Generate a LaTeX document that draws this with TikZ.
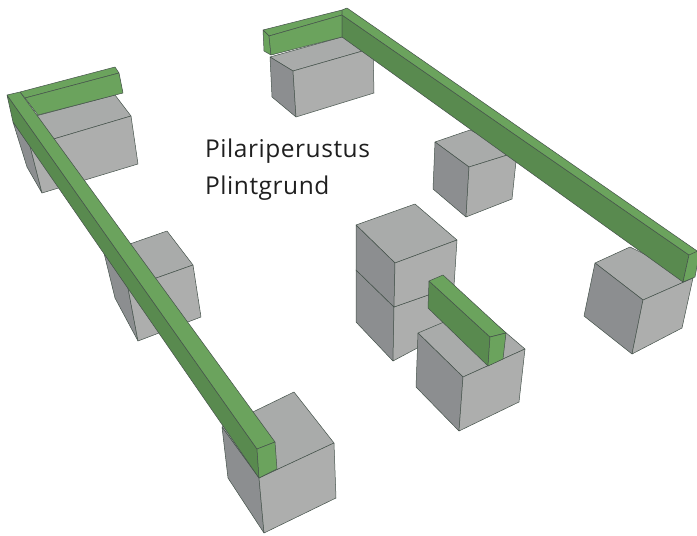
\documentclass[tikz,border=0pt]{standalone}
\usepackage{fontspec}
\setmainfont[LetterSpace=2.2]{Open Sans}
\definecolor{cubetop}{HTML}{A9ABAA}
\definecolor{cubeleft}{HTML}{8C8E90}
\definecolor{cuberight}{HTML}{ADAEAD}
\definecolor{greentop}{HTML}{6BA35D}
\definecolor{greenside}{HTML}{598A4F}
\definecolor{edgeline}{HTML}{45524B}
\tikzset{
  topface/.style={fill=cubetop,draw=edgeline,line width=0.5pt,line join=round},
  leftface/.style={fill=cubeleft,draw=edgeline,line width=0.5pt,line join=round},
  rightface/.style={fill=cuberight,draw=edgeline,line width=0.5pt,line join=round},
  beamtop/.style={fill=greentop,draw=edgeline,line width=0.5pt,line join=round},
  beamside/.style={fill=greenside,draw=edgeline,line width=0.5pt,line join=round},
  label/.style={anchor=base west,font=\fontsize{24.5}{24.5}\selectfont,text=black!88,inner sep=0pt}
}
% #1 left-top, #2 back-top, #3 right-top, #4 front-top, #5 left-bottom, #6 front-bottom, #7 right-bottom
\newcommand{\pcube}[7]{%
  \path[topface] #1 -- #2 -- #3 -- #4 -- cycle;
  \path[leftface] #1 -- #4 -- #6 -- #5 -- cycle;
  \path[rightface] #4 -- #3 -- #7 -- #6 -- cycle;
}
\begin{document}
\begin{tikzpicture}[x=1pt,y=-1pt]
\useasboundingbox (0,0) rectangle (697,536);
\clip (0,0) rectangle (697,536);
% left group
\pcube{(13,122)}{(115,95)}{(131,116)}{(30,146)}{(27,167)}{(42,193)}{(138,164)}
\pcube{(104,253)}{(167,231)}{(193,265)}{(128,288)}{(115,298)}{(138,341)}{(201,317)}
\pcube{(222,427)}{(294,392)}{(334,443)}{(259,478)}{(228,478)}{(264,533)}{(336,498)}
% left cross beam
\path[beamtop] (20,92) -- (115,67) -- (119,73) -- (25,98) -- cycle;
\path[beamtop] (25,98) -- (119,73) -- (123,93) -- (38,115) -- cycle;
% left long beam
\path[beamside] (7,95) -- (257,449) -- (259,478) -- (13,122) -- cycle;
\path[beamtop] (7,95) -- (20,92) -- (275,442) -- (257,449) -- cycle;
\path[beamtop] (257,449) -- (275,442) -- (277,469) -- (259,478) -- cycle;
% upper right group
\pcube{(270,57)}{(342,37)}{(373,48)}{(293,71)}{(272,97)}{(296,117)}{(374,93)}
\pcube{(435,142)}{(470,130)}{(517,152)}{(469,167)}{(433,189)}{(466,217)}{(512,199)}
\pcube{(595,263)}{(630,247)}{(693,278)}{(643,300)}{(584,316)}{(632,354)}{(682,328)}
% upper cross beam
\path[beamtop] (263,30) -- (342,10) -- (342,15) -- (269,36) -- cycle;
\path[beamtop] (263,30) -- (269,36) -- (271,55) -- (264,51) -- cycle;
\path[beamtop] (269,36) -- (342,15) -- (342,37) -- (271,55) -- cycle;
% upper long beam
\path[beamside] (342,15) -- (689,255) -- (683,282) -- (342,37) -- cycle;
\path[beamtop] (342,10) -- (347,8) -- (700,253) -- (689,255) -- (342,15) -- cycle;
\path[beamtop] (689,255) -- (700,250) -- (695,277) -- (683,282) -- cycle;
% stacked blocks
\pcube{(356,270)}{(415,250)}{(454,286)}{(394,307)}{(356,322)}{(393,361)}{(451,330)}
\pcube{(356,225)}{(415,204)}{(457,240)}{(395,263)}{(356,270)}{(394,307)}{(454,286)}
\pcube{(418,333)}{(477,308)}{(525,349)}{(463,377)}{(416,387)}{(459,431)}{(519,402)}
% short beam
\path[beamside] (429,281) -- (490,337) -- (488,366) -- (428,308) -- cycle;
\path[beamtop] (429,281) -- (443,275) -- (506,333) -- (490,337) -- cycle;
\path[beamtop] (490,337) -- (506,333) -- (503,359) -- (488,366) -- cycle;
% labels
\node[label] (pilari) at (205,157) {Pilariperustus};
\node[label] (plint) at (205,194) {Plintgrund};
\end{tikzpicture}
\end{document}
